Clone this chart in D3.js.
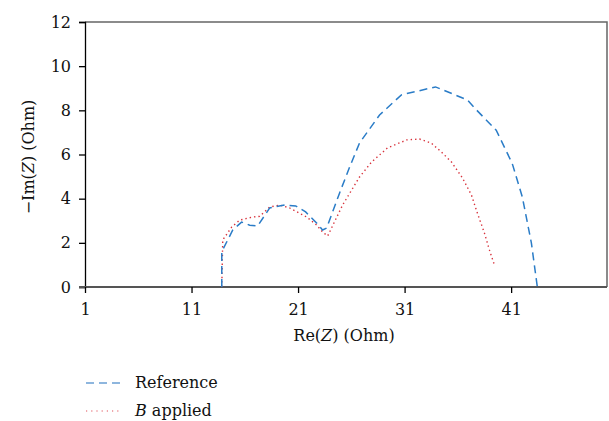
<!DOCTYPE html>
<html>
<head>
<meta charset="utf-8">
<script src="https://cdn.jsdelivr.net/npm/d3@7"></script>
<style>
	body{margin:0;background:#fff;}
	text{font-family:"DejaVu Serif","Liberation Serif",serif;fill:#111;}
</style>
</head>
<body>
<svg id="chart" width="609" height="421"></svg>
<script>
// Nyquist data: [Re(Z), -Im(Z)]
var refX = [13.84,13.84,14.87,15.7,16.46,17.2,18.34,19.74,20.78,21.71,22.74,23.3,23.68,24.9,25.84,26.77,28.65,30.7,33.9,36.9,37.74,39.6,41.1,42.05,42.9,43.46];
var refY = [0,1.6,2.58,2.94,2.8,2.76,3.58,3.71,3.67,3.4,2.9,2.58,2.67,4.26,5.43,6.52,7.79,8.7,9.06,8.47,8.02,7.1,5.6,4.08,2.0,0];

var bX = [13.84,13.93,14.78,15.53,16.75,17.4,18.34,19.28,20.2,21.8,22.74,23.3,23.78,25.18,26.77,27.9,29.4,31.2,32.4,33.5,34.46,35.4,36.43,37.27,37.83,38.49,38.96,39.43];
var bY = [0,2.13,2.72,3.03,3.17,3.2,3.62,3.71,3.58,3.17,2.81,2.49,2.31,3.71,4.98,5.66,6.3,6.66,6.7,6.52,6.11,5.66,4.94,4.17,3.35,2.45,1.68,1.0];

var xTicks = [1,11,21,31,41];
var yTicks = [0,2,4,6,8,10,12];

function init(){
	var svg = d3.select('#chart');
	var left=85, right=607, top=22, bottom=287;

	var x = d3.scaleLinear().domain([1,50]).range([left,right]);
	var y = d3.scaleLinear().domain([0,12]).range([bottom,top]);

	// marco arriba/derecha
	svg.append("path")
		.attr("d","M"+left+","+top+"H"+right+"V"+bottom)
		.attr("fill","none")
		.attr("stroke","#666")
		.attr("stroke-width",1.5);

	// eje y
	var ya = svg.append("g")
		.attr("transform","translate("+left+",0)")
		.call(d3.axisLeft(y).tickValues(yTicks).tickSize(6).tickPadding(8));
	ya.select(".domain").attr("stroke","#000").attr("stroke-width",1.3);
	ya.selectAll(".tick line").attr("stroke","#000").attr("stroke-width",1.3);
	ya.selectAll("text").style("font-size","16px").attr("fill","#111");

	// eje x
	var xa = svg.append("g")
		.attr("transform","translate(0,"+bottom+")")
		.call(d3.axisBottom(x).tickValues(xTicks).tickSize(6).tickPadding(11));
	xa.select(".domain").attr("d","M"+(left-6)+",0H"+right).attr("stroke","#555").attr("stroke-width",2);
	xa.selectAll(".tick line").attr("stroke","#000").attr("stroke-width",1.3);
	xa.selectAll("text").style("font-size","16px").attr("fill","#111");

	// curvas
	var line = d3.line().x(function(d){return x(d[0]);}).y(function(d){return y(d[1]);});
	var refData = d3.zip(refX,refY);
	var bData = d3.zip(bX,bY);

	svg.append("path")
		.datum(bData)
		.attr("d",line)
		.attr("fill","none")
		.attr("stroke","#d8323c")
		.attr("stroke-width",1.4)
		.attr("stroke-dasharray","1.4,3");

	svg.append("path")
		.datum(refData)
		.attr("d",line)
		.attr("fill","none")
		.attr("stroke","#2a7cc7")
		.attr("stroke-width",1.5)
		.attr("stroke-dasharray","8,5");

	// titulos
	var yt = svg.append("text")
		.attr("transform","translate(34,157) rotate(-90)")
		.attr("text-anchor","middle")
		.style("font-size","16px");
	yt.append("tspan").text("\u2212Im(");
	yt.append("tspan").style("font-style","italic").text("Z");
	yt.append("tspan").text(") (Ohm)");

	var xt = svg.append("text")
		.attr("x",344)
		.attr("y",341)
		.attr("text-anchor","middle")
		.style("font-size","16px");
	xt.append("tspan").text("Re(");
	xt.append("tspan").style("font-style","italic").text("Z");
	xt.append("tspan").text(") (Ohm)");

	// leyenda
	var lg = svg.append("g");
	lg.append("line")
		.attr("x1",86).attr("x2",122).attr("y1",383).attr("y2",383)
		.attr("stroke","#6a9fd4").attr("stroke-width",1.5)
		.attr("stroke-dasharray","8,5");
	lg.append("text").attr("x",135).attr("y",388).style("font-size","16px").text("Reference");
	lg.append("line")
		.attr("x1",86).attr("x2",122).attr("y1",411).attr("y2",411)
		.attr("stroke","#e0505a").attr("stroke-width",1.2)
		.attr("stroke-dasharray","1.2,4");
	var lt = lg.append("text").attr("x",135).attr("y",416).style("font-size","16px");
	lt.append("tspan").style("font-style","italic").text("B");
	lt.append("tspan").text(" applied");
}
init();
</script>
</body>
</html>
